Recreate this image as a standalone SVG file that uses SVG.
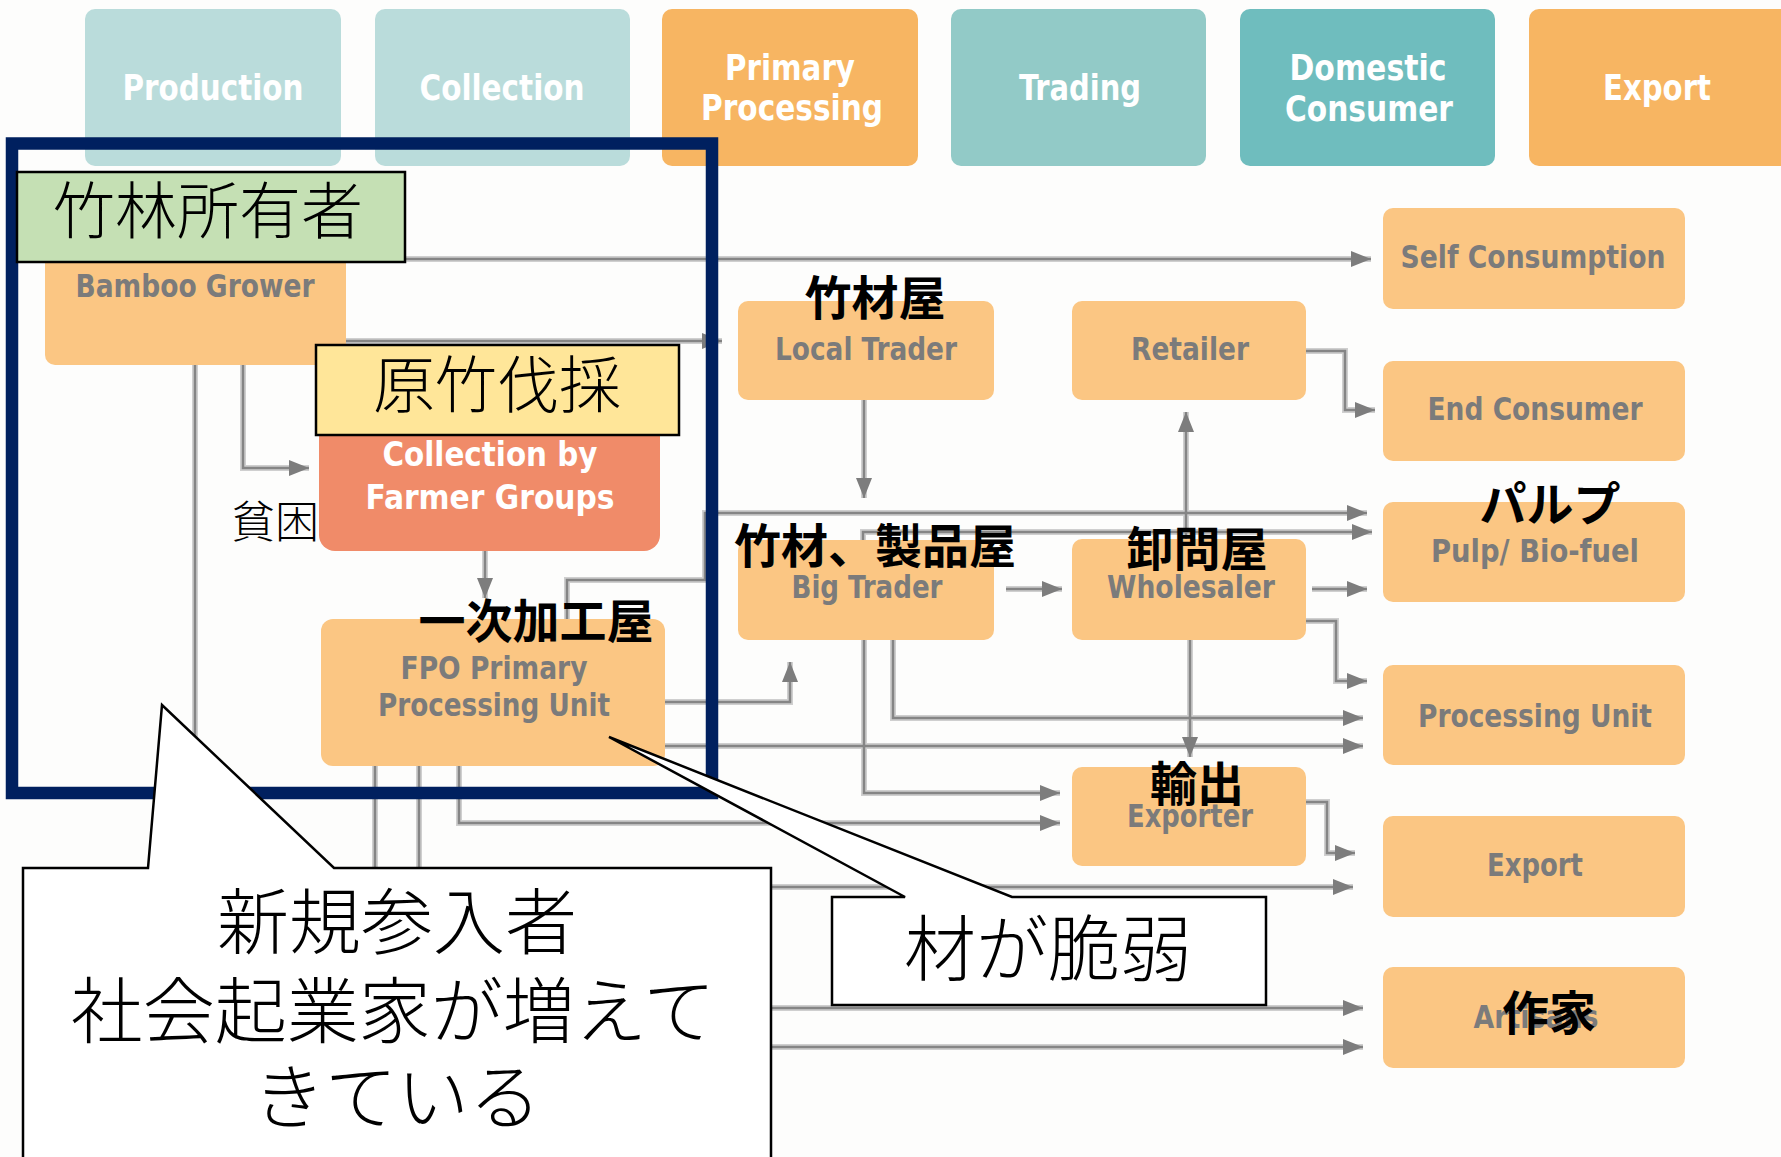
<svg xmlns="http://www.w3.org/2000/svg" width="1781" height="1157" viewBox="0 0 1781 1157">
<defs>
<style>
.bg{fill:#fdfdfc}
.ht{font-family:"Liberation Sans Narrow","DejaVu Sans Condensed","Roboto Condensed",sans-serif;font-weight:bold;font-size:36px;fill:#ffffff;text-anchor:middle}
.nb{fill:#fbc683}
.nt{font-family:"Liberation Sans Narrow","DejaVu Sans Condensed","Roboto Condensed",sans-serif;font-weight:bold;font-size:32px;fill:#7b7b7b;text-anchor:middle}
.wt{fill:#ffffff;font-size:34px}
.jb{font-family:"Noto Sans CJK JP","Noto Sans CJK SC",sans-serif;font-weight:bold;font-size:47px;fill:#000000;text-anchor:middle}
.jl{font-family:"Noto Sans CJK JP","Noto Sans CJK SC",sans-serif;font-weight:300;fill:#000000;text-anchor:middle}
.under path{fill:none;stroke:#cfcfcf;stroke-width:6}
.over path{fill:none;stroke:#858585;stroke-width:2.5;marker-end:url(#ah)}
.tag{stroke:#000000;stroke-width:2.5}
.callout{fill:#ffffff;stroke:#000000;stroke-width:2.5}
</style>
<marker id="ah" markerUnits="userSpaceOnUse" markerWidth="20" markerHeight="16" refX="20" refY="8" orient="auto"><path d="M0,0 L20,8 L0,16 Z" fill="#7d7d7d"/></marker>
</defs>
<rect class="bg" x="0" y="0" width="1781" height="1157"/>

<g id="headers">
<g id="hdr-production"><rect x="85" y="9" width="256" height="157" rx="10" fill="#badcdb"/><text class="ht" x="213" y="100" textLength="181" lengthAdjust="spacingAndGlyphs">Production</text></g>
<g id="hdr-collection"><rect x="375" y="9" width="255" height="157" rx="10" fill="#badcdb"/><text class="ht" x="502" y="100" textLength="165" lengthAdjust="spacingAndGlyphs">Collection</text></g>
<g id="hdr-primary"><rect x="662" y="9" width="256" height="157" rx="10" fill="#f7b562"/><text class="ht" x="790" y="80" textLength="130" lengthAdjust="spacingAndGlyphs">Primary</text><text class="ht" x="792" y="120" textLength="182" lengthAdjust="spacingAndGlyphs">Processing</text></g>
<g id="hdr-trading"><rect x="951" y="9" width="255" height="157" rx="10" fill="#92cac7"/><text class="ht" x="1080" y="100" textLength="122" lengthAdjust="spacingAndGlyphs">Trading</text></g>
<g id="hdr-domestic"><rect x="1240" y="9" width="255" height="157" rx="10" fill="#6fbdbe"/><text class="ht" x="1368" y="80" textLength="157" lengthAdjust="spacingAndGlyphs">Domestic</text><text class="ht" x="1369" y="121" textLength="168" lengthAdjust="spacingAndGlyphs">Consumer</text></g>
<g id="hdr-export"><rect x="1529" y="9" width="262" height="157" rx="10" fill="#f7b562"/><text class="ht" x="1657" y="100" textLength="108" lengthAdjust="spacingAndGlyphs">Export</text></g>
</g>

<g id="connectors">
<g class="under">
<path d="M346 259 H1371"/>
<path d="M346 341 H722"/>
<path d="M243 365 V468 H309"/>
<path d="M195 365 V1047 H1363"/>
<path d="M485 551 V598"/>
<path d="M567 619 V580 H705 V513 H1367"/>
<path d="M864 400 V498"/>
<path d="M863 540 V532 H1372"/>
<path d="M1006 589 H1062"/>
<path d="M1312 589 H1367"/>
<path d="M1186 539 V412"/>
<path d="M1306 351 H1345 V410 H1375"/>
<path d="M1306 621 H1336 V681 H1367"/>
<path d="M893 640 V718 H1363"/>
<path d="M665 746 H1363"/>
<path d="M665 702 H790 V662"/>
<path d="M864 640 V793 H1060"/>
<path d="M459 766 V823 H1060"/>
<path d="M1190 640 V757"/>
<path d="M1306 802 H1327 V853 H1355"/>
<path d="M419 766 V887 H1353"/>
<path d="M375 766 V1008 H1363"/>
</g>
<g class="over">
<path d="M346 259 H1371"/>
<path d="M346 341 H722"/>
<path d="M243 365 V468 H309"/>
<path d="M195 365 V1047 H1363"/>
<path d="M485 551 V598"/>
<path d="M567 619 V580 H705 V513 H1367"/>
<path d="M864 400 V498"/>
<path d="M863 540 V532 H1372"/>
<path d="M1006 589 H1062"/>
<path d="M1312 589 H1367"/>
<path d="M1186 539 V412"/>
<path d="M1306 351 H1345 V410 H1375"/>
<path d="M1306 621 H1336 V681 H1367"/>
<path d="M893 640 V718 H1363"/>
<path d="M665 746 H1363"/>
<path d="M665 702 H790 V662"/>
<path d="M864 640 V793 H1060"/>
<path d="M459 766 V823 H1060"/>
<path d="M1190 640 V757"/>
<path d="M1306 802 H1327 V853 H1355"/>
<path d="M419 766 V887 H1353"/>
<path d="M375 766 V1008 H1363"/>
</g>
</g>

<g id="node-bamboo-grower"><rect class="nb" x="45" y="215" width="301" height="150" rx="10"/><text class="nt" x="195" y="297" textLength="239" lengthAdjust="spacingAndGlyphs">Bamboo Grower</text></g>
<g id="node-collection-fg"><rect x="319" y="400" width="341" height="151" rx="16" fill="#f08b69"/><text class="nt wt" x="490" y="466" textLength="215" lengthAdjust="spacingAndGlyphs">Collection by</text><text class="nt wt" x="490" y="509" textLength="249" lengthAdjust="spacingAndGlyphs">Farmer Groups</text></g>
<g id="node-fpo"><rect class="nb" x="321" y="619" width="344" height="147" rx="12"/><text class="nt" x="494" y="679" textLength="187" lengthAdjust="spacingAndGlyphs">FPO Primary</text><text class="nt" x="494" y="716" textLength="232" lengthAdjust="spacingAndGlyphs">Processing Unit</text></g>
<g id="node-local-trader"><rect class="nb" x="738" y="301" width="256" height="99" rx="10"/><text class="nt" x="866" y="360" textLength="182" lengthAdjust="spacingAndGlyphs">Local Trader</text></g>
<g id="node-retailer"><rect class="nb" x="1072" y="301" width="234" height="99" rx="10"/><text class="nt" x="1190" y="360" textLength="118" lengthAdjust="spacingAndGlyphs">Retailer</text></g>
<g id="node-big-trader"><rect class="nb" x="738" y="540" width="256" height="100" rx="10"/><text class="nt" x="867" y="598" textLength="151" lengthAdjust="spacingAndGlyphs">Big Trader</text></g>
<g id="node-wholesaler"><rect class="nb" x="1072" y="539" width="234" height="101" rx="10"/><text class="nt" x="1191" y="598" textLength="168" lengthAdjust="spacingAndGlyphs">Wholesaler</text></g>
<g id="node-exporter"><rect class="nb" x="1072" y="767" width="234" height="99" rx="10"/><text class="nt" x="1190" y="827" textLength="126" lengthAdjust="spacingAndGlyphs">Exporter</text></g>
<g id="node-self-consumption"><rect class="nb" x="1383" y="208" width="302" height="101" rx="10"/><text class="nt" x="1533" y="268" textLength="265" lengthAdjust="spacingAndGlyphs">Self Consumption</text></g>
<g id="node-end-consumer"><rect class="nb" x="1383" y="361" width="302" height="100" rx="10"/><text class="nt" x="1535" y="420" textLength="215" lengthAdjust="spacingAndGlyphs">End Consumer</text></g>
<g id="node-pulp"><rect class="nb" x="1383" y="502" width="302" height="100" rx="10"/><text class="nt" x="1535" y="562" textLength="208" lengthAdjust="spacingAndGlyphs">Pulp/ Bio-fuel</text></g>
<g id="node-processing-unit"><rect class="nb" x="1383" y="665" width="302" height="100" rx="10"/><text class="nt" x="1535" y="727" textLength="234" lengthAdjust="spacingAndGlyphs">Processing Unit</text></g>
<g id="node-export"><rect class="nb" x="1383" y="816" width="302" height="101" rx="10"/><text class="nt" x="1535" y="876" textLength="96" lengthAdjust="spacingAndGlyphs">Export</text></g>
<g id="node-artisans"><rect class="nb" x="1383" y="967" width="302" height="101" rx="10"/><text class="nt" x="1536" y="1028" textLength="125" lengthAdjust="spacingAndGlyphs">Artisans</text></g>

<g id="frame"><rect x="12" y="143.5" width="700" height="649.5" fill="none" stroke="#00205f" stroke-width="12.5"/></g>

<g id="tag-owner"><rect class="tag" x="17" y="172" width="388" height="90" fill="#c5e0b4"/><text class="jl" x="208" y="234" font-size="62">竹林所有者</text></g>
<g id="tag-harvest"><rect class="tag" x="316" y="345" width="363" height="90" fill="#ffe699"/><text class="jl" x="497" y="408" font-size="62">原竹伐採</text></g>

<g id="labels">
<text class="jl" x="275" y="538" font-size="44">貧困</text>
<text class="jb" x="875" y="315">竹材屋</text>
<text class="jb" x="875" y="563">竹材、製品屋</text>
<text class="jb" x="1197" y="566">卸問屋</text>
<text class="jb" x="536" y="638">一次加工屋</text>
<text class="jb" x="1550" y="521">パルプ</text>
<text class="jb" x="1197" y="801">輸出</text>
<text class="jb" x="1549" y="1030">作家</text>
</g>

<g id="callout-newcomers"><path class="callout" d="M23 1170 V868 H148 L162 705 L334 868 H771 V1170"/><text class="jl" x="397" y="948" font-size="72">新規参入者</text><text class="jl" x="393" y="1037" font-size="72">社会起業家が増えて</text><text class="jl" x="397" y="1123" font-size="72">きている</text></g>
<g id="callout-fragile"><path class="callout" d="M832 897 H905 L609 737 L1012 897 H1266 V1005 H832 Z"/><text class="jl" x="1048" y="975" font-size="72">材が脆弱</text></g>
</svg>
